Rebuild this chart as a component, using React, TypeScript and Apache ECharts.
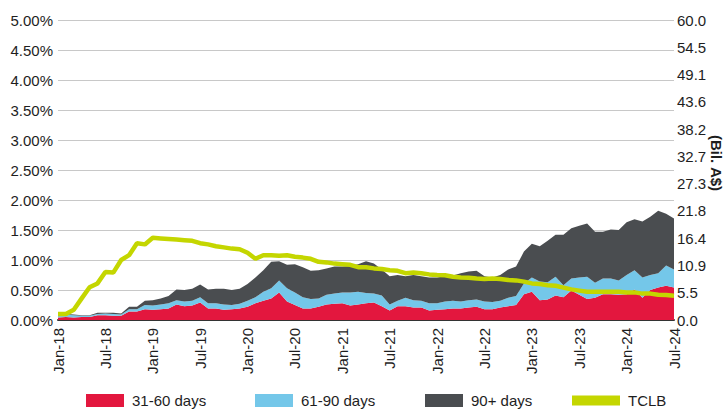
import React, { useEffect, useRef } from "react";
import * as echarts from "echarts";

const MONTHS = ["Jan", "Feb", "Mar", "Apr", "May", "Jun", "Jul", "Aug", "Sep", "Oct", "Nov", "Dec"];
const YEARS = ["18", "19", "20", "21", "22", "23", "24"];
const CATEGORIES: string[] = [];
YEARS.forEach((y) => MONTHS.forEach((m) => CATEGORIES.push(`${m}-${y}`)));
CATEGORIES.splice(79); // Jan-18 .. Jul-24

const SERIES_NAMES = ["31-60 days", "61-90 days", "90+ days", "TCLB"];

const D31_60 = [
  0.04, 0.05, 0.04, 0.05, 0.05, 0.08, 0.08, 0.07, 0.07, 0.14, 0.14, 0.18, 0.17, 0.18, 0.19, 0.26,
  0.23, 0.24, 0.29, 0.19, 0.19, 0.17, 0.18, 0.19, 0.22, 0.28, 0.32, 0.36, 0.46, 0.31, 0.25, 0.19,
  0.19, 0.22, 0.26, 0.27, 0.28, 0.24, 0.26, 0.28, 0.29, 0.23, 0.16, 0.23, 0.23, 0.21, 0.21, 0.16,
  0.17, 0.18, 0.19, 0.19, 0.21, 0.22, 0.18, 0.18, 0.21, 0.23, 0.25, 0.43, 0.47, 0.33, 0.34, 0.41,
  0.38, 0.49, 0.42, 0.35, 0.37, 0.43, 0.43, 0.42, 0.43, 0.51, 0.37, 0.5, 0.54, 0.57, 0.54,
];
const D61_90 = [
  0.03, 0.04, 0.04, 0.02, 0.02, 0.02, 0.03, 0.03, 0.02, 0.04, 0.04, 0.07, 0.07, 0.08, 0.09, 0.07,
  0.08, 0.08, 0.09, 0.09, 0.09, 0.09, 0.07, 0.08, 0.1, 0.1, 0.15, 0.17, 0.2, 0.22, 0.21, 0.19,
  0.16, 0.14, 0.16, 0.17, 0.18, 0.22, 0.21, 0.17, 0.15, 0.18, 0.1, 0.09, 0.14, 0.12, 0.11, 0.12,
  0.11, 0.13, 0.13, 0.12, 0.12, 0.12, 0.13, 0.12, 0.11, 0.14, 0.15, 0.18, 0.24, 0.31, 0.29, 0.31,
  0.2, 0.2, 0.29, 0.37, 0.25, 0.26, 0.26, 0.24, 0.32, 0.32, 0.34, 0.25, 0.24, 0.34, 0.3,
];
const D90_PLUS = [
  0.01, 0.01, 0.01, 0.01, 0.01, 0.02, 0.01, 0.02, 0.02, 0.04, 0.04, 0.07, 0.09, 0.1, 0.12, 0.18,
  0.19, 0.2, 0.21, 0.23, 0.24, 0.26, 0.25, 0.25, 0.28, 0.33, 0.36, 0.44, 0.32, 0.39, 0.47, 0.5,
  0.47, 0.47, 0.44, 0.45, 0.43, 0.44, 0.46, 0.53, 0.5, 0.43, 0.47, 0.43, 0.36, 0.42, 0.41, 0.43,
  0.43, 0.42, 0.42, 0.47, 0.48, 0.48, 0.42, 0.41, 0.43, 0.47, 0.49, 0.53, 0.56, 0.59, 0.69, 0.7,
  0.84, 0.84, 0.86, 0.89, 0.85, 0.78, 0.82, 0.84, 0.88, 0.85, 0.93, 0.97, 1.04, 0.86, 0.85,
];
const TCLB = [
  0.1, 0.1, 0.17, 0.36, 0.545, 0.61, 0.8, 0.79, 1.0, 1.08, 1.28, 1.26, 1.37, 1.36, 1.35, 1.34,
  1.33, 1.32, 1.28, 1.26, 1.23, 1.21, 1.19, 1.18, 1.12, 1.02, 1.08, 1.08, 1.07, 1.08, 1.055, 1.04,
  1.02, 0.97, 0.96, 0.94, 0.93, 0.92, 0.88, 0.88, 0.86, 0.85, 0.83, 0.82, 0.78, 0.79, 0.78, 0.76,
  0.75, 0.745, 0.72, 0.71, 0.705, 0.69, 0.685, 0.69, 0.685, 0.667, 0.66, 0.64, 0.61, 0.6, 0.58, 0.57,
  0.54, 0.51, 0.49, 0.47, 0.47, 0.47, 0.47, 0.47, 0.46, 0.46, 0.44, 0.44, 0.42, 0.415, 0.405,
];

const RIGHT_TICKS = ["0.0", "5.5", "10.9", "16.4", "21.8", "27.3", "32.7", "38.2", "43.6", "49.1", "54.5", "60.0"];
const RIGHT_AXIS_NAME = "(Bil. A$)";

const COLORS = ["#E3173E", "#74C7E9", "#4A4D50", "#C4D600"];
const FONT = "'Liberation Sans', Arial, sans-serif";
const TEXT = "#1e1e1e";

export default function App() {
  const ref = useRef<HTMLDivElement>(null);
  useEffect(() => {
    if (!ref.current) return;
    const chart = echarts.init(ref.current, undefined, { renderer: "svg" });
    const areaSeries = (name: string, data: number[], color: string) => ({
      name,
      type: "line",
      stack: "arrears",
      data,
      symbol: "none",
      lineStyle: { width: 0, color },
      itemStyle: { color },
      areaStyle: { color, opacity: 1 },
      z: 2,
    });
    const legendLefts = [86, 255, 425, 572];
    const legendSizes = [
      [38, 13],
      [38, 13],
      [38, 13],
      [48, 10],
    ];
    chart.setOption({
      animation: false,
      textStyle: { fontFamily: FONT },
      grid: { left: 58, right: 50, top: 20, bottom: 90 },
      xAxis: {
        type: "category",
        data: CATEGORIES,
        boundaryGap: false,
        axisLine: { show: true, lineStyle: { color: "#333", width: 2 } },
        axisTick: { show: false },
        splitLine: { show: false },
        axisLabel: { interval: 5, rotate: 90, margin: 8, fontSize: 15, color: TEXT, fontFamily: FONT },
      },
      yAxis: [
        {
          type: "value",
          min: 0,
          max: 5,
          interval: 0.5,
          axisLine: { show: false },
          axisTick: { show: false },
          splitLine: { lineStyle: { color: "#C8C8C8", width: 1 } },
          axisLabel: {
            margin: 5,
            fontSize: 15,
            color: TEXT,
            fontFamily: FONT,
            formatter: (v: number) => v.toFixed(2) + "%",
          },
        },
        {
          type: "value",
          position: "right",
          min: 0,
          max: RIGHT_TICKS.length - 1,
          interval: 1,
          axisLine: { show: false },
          axisTick: { show: false },
          splitLine: { show: false },
          axisLabel: {
            margin: 3,
            fontSize: 15,
            color: TEXT,
            fontFamily: FONT,
            formatter: (v: number) => RIGHT_TICKS[Math.round(v)] ?? "",
          },
        },
      ],
      legend: SERIES_NAMES.map((n, i) => ({
        data: [n],
        left: legendLefts[i],
        top: 393,
        padding: 0,
        icon: "rect",
        itemWidth: legendSizes[i][0],
        itemHeight: legendSizes[i][1],
        itemGap: 0,
        selectedMode: false,
        textStyle: { fontSize: 15, color: TEXT, fontFamily: FONT, padding: [0, 0, 0, 3] },
      })),
      graphic: [
        {
          type: "text",
          x: 716,
          y: 163,
          rotation: -Math.PI / 2,
          style: {
            text: RIGHT_AXIS_NAME,
            font: `bold 15px ${FONT}`,
            fill: TEXT,
            textAlign: "center",
            textVerticalAlign: "middle",
            verticalAlign: "middle",
          },
        },
      ],
      series: [
        areaSeries(SERIES_NAMES[0], D31_60, COLORS[0]),
        areaSeries(SERIES_NAMES[1], D61_90, COLORS[1]),
        areaSeries(SERIES_NAMES[2], D90_PLUS, COLORS[2]),
        {
          name: SERIES_NAMES[3],
          type: "line",
          data: TCLB,
          symbol: "none",
          lineStyle: { width: 4.5, color: COLORS[3] },
          itemStyle: { color: COLORS[3] },
          z: 5,
        },
      ],
    });
    return () => chart.dispose();
  }, []);
  return <div ref={ref} style={{ position: "absolute", left: 0, top: 0, width: 724, height: 410 }} />;
}
